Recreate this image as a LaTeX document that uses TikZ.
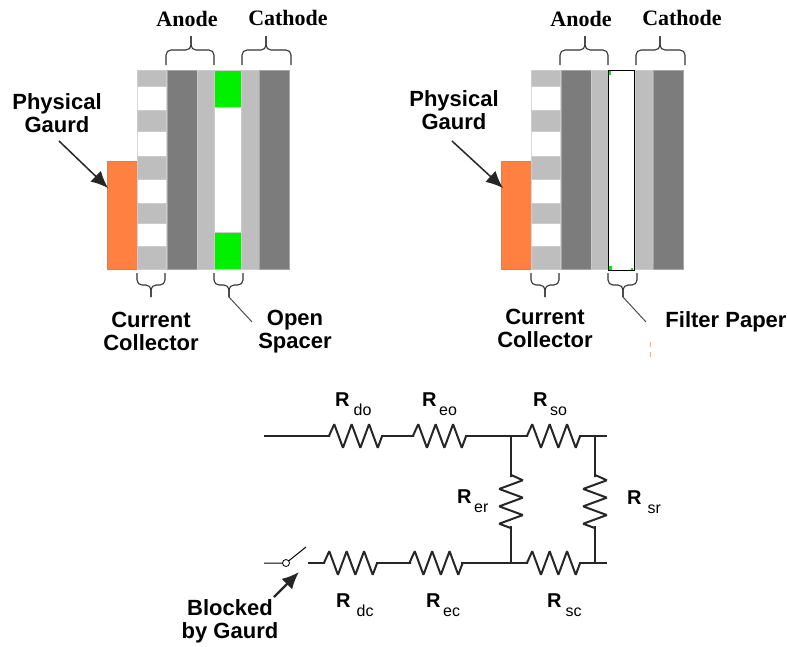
\documentclass[tikz,border=0pt]{standalone}
\usepackage{fontspec}
\setmainfont{Liberation Sans}
\newfontfamily\serifbold{Liberation Serif}[BoldFont={Liberation Serif Bold}]
\usepackage{circuitikz}
\usetikzlibrary{arrows.meta}
\definecolor{darklayer}{RGB}{124,124,124}
\definecolor{lightlayer}{RGB}{190,190,190}
\definecolor{spacergreen}{RGB}{0,240,0}
\definecolor{gaurdorange}{RGB}{255,128,64}
\newcommand{\Rlab}[2]{\textbf{R}\hspace{#1}\raisebox{-9pt}{\fontsize{16}{16}\selectfont #2}}
\ctikzset{bipoles/length=64pt, bipoles/resistor/height=0.37, bipoles/thickness=1}

\begin{document}
\begin{tikzpicture}[x=1pt, y=-1pt,
            dark/.style={fill=darklayer, draw=gray!70, line width=0.6pt},
            light/.style={fill=lightlayer, draw=gray!40, line width=0.6pt},
            gaurd/.style={fill=gaurdorange, draw=gaurdorange!70!gray, line width=0.6pt},
            title/.style={font=\serifbold\fontsize{22}{24}\selectfont\bfseries, inner sep=0pt},
            caption/.style={font=\fontsize{22}{23}\selectfont\bfseries, align=center, inner sep=0pt},
            rname/.style={font=\fontsize{20}{22}\selectfont, anchor=base west, inner sep=0pt},
            bracket/.style={rounded corners=5pt, line width=1.1pt, draw=black!80},
            pointer/.style={-{Latex[length=17pt, width=15pt]}, line width=1.5pt, black!85},
            leadwire/.style={line width=2pt, draw=black!85}]

            \useasboundingbox (0,0) rectangle (787,646);

            % Both cell stacks
            \foreach \pan/\dx in {A/0, B/394} {
                \begin{scope}[xshift=\dx]
                    \node[gaurd, minimum width=30pt, minimum height=108pt, inner sep=0pt] (\pan-gaurd) at (122,215) {};
                    % Current collector
                    \draw[gray!30, line width=0.6pt] (137.5,70) rectangle (166,269);
                    \foreach \ya/\yb in {70/86, 110/131, 156/179, 203/223, 246/269}
                        \filldraw[light] (137.5,\ya) rectangle (166,\yb);
                    % Electrodes
                    \filldraw[dark] (167,70) rectangle (197,269);
                    \filldraw[light] (197,70) rectangle (214,269);
                    \filldraw[light] (241,70) rectangle (259,269);
                    \filldraw[dark] (259,70) rectangle (289,269);
                    % Brackets
                    \foreach \brk/\xa/\xb/\xm/\ye/\ys/\yt in {anode/166/214/191/65/50/36, cathode/242/291/266/65/50/36,
                            coll/137/165/151/273/285/297, sep/214/243/229/273/285/297} {
                        \coordinate (\pan-\brk-l) at (\xa,\ye);
                        \coordinate (\pan-\brk-r) at (\xb,\ye);
                        \coordinate (\pan-\brk-m) at (\xm,\ys);
                        \coordinate (\pan-\brk-t) at (\xm,\yt);
                        \draw[bracket] (\pan-\brk-l) |- (\pan-\brk-m) -- (\pan-\brk-t);
                        \draw[bracket] (\pan-\brk-r) |- (\pan-\brk-m) -- (\pan-\brk-t);
                    }
                    \coordinate (\pan-sep-end) at (252,322);
                    \draw[line width=1pt, black!70] (\pan-sep-t) -- (\pan-sep-end);
                    \node[title] (\pan-anode) at (187,19) {Anode};
                    \node[title] (\pan-cathode) at (288,18) {Cathode};
                \end{scope}
            }

            % Open spacer
            \filldraw[fill=spacergreen, draw=gray!40, line width=0.6pt] (214,70) rectangle (241,107);
            \filldraw[fill=spacergreen, draw=gray!40, line width=0.6pt] (214,232) rectangle (241,269);

            % Filter paper
            \draw[line width=1pt, fill=white] (608.5,70) rectangle (634.5,270);
            \fill[spacergreen] (609,71) rectangle (611,75);
            \fill[spacergreen] (609,266) rectangle (612,269.5);
            \fill[spacergreen] (631,268) rectangle (633,269.5);
            \fill[gaurdorange!70] (649.5,342) rectangle (651,347);
            \fill[gaurdorange!70] (649.5,352) rectangle (651,357);

            % Labels of the stacks
            \node[caption] (gaurdA) at (57,113) {Physical\\Gaurd};
            \node[caption] (gaurdB) at (454,110) {Physical\\Gaurd};
            \node[caption] (collA) at (151,331) {Current\\Collector};
            \node[caption] (collB) at (545,328) {Current\\Collector};
            \node[caption] (spacer) at (295,332) {Open\\Spacer};
            \node[caption] (paper) at (726,322) {Filter Paper};
            \coordinate (gaurdA-tip) at (108,188);
            \coordinate (gaurdB-tip) at (503,188);
            \coordinate (gaurdA-tail) at (59,141);
            \coordinate (gaurdB-tail) at (452,141);
            \draw[pointer] (gaurdA-tail) -- (gaurdA-tip);
            \draw[pointer] (gaurdB-tail) -- (gaurdB-tip);

            % Circuit
            \coordinate (in1) at (264,436);
            \coordinate (t1) at (330,436);
            \coordinate (t2) at (381,436);
            \coordinate (t3) at (414,436);
            \coordinate (t4) at (465,436);
            \coordinate (t5) at (511,436);
            \coordinate (t6) at (528,436);
            \coordinate (t7) at (579,436);
            \coordinate (t8) at (595,436);
            \coordinate (t9) at (607,436);
            \coordinate (in2) at (264,563);
            \coordinate (sw) at (286,563);
            \coordinate (swend) at (306,547);
            \coordinate (b0) at (308,563);
            \coordinate (b1) at (325,563);
            \coordinate (b2) at (376,563);
            \coordinate (b3) at (411,563);
            \coordinate (b4) at (461,563);
            \coordinate (b5) at (511,563);
            \coordinate (b6) at (528,563);
            \coordinate (b7) at (579,563);
            \coordinate (b8) at (595,563);
            \coordinate (b9) at (607,563);
            \coordinate (m1) at (511,477);
            \coordinate (m2) at (511,526);
            \coordinate (m3) at (595,477);
            \coordinate (m4) at (595,526);
            \draw[leadwire] (in1) -- (t1) to[R] (t2) -- (t3) to[R] (t4) -- (t5) -- (t6) to[R] (t7) -- (t9);
            \draw[leadwire] (b0) -- (b1) to[R] (b2) -- (b3) to[R] (b4) -- (b5) -- (b6) to[R] (b7) -- (b9);
            \draw[leadwire] (t5) -- (m1) to[R] (m2) -- (b5);
            \draw[leadwire] (t8) -- (m3) to[R] (m4) -- (b8);
            \draw[line width=1pt] (in2) -- (sw) -- (swend);
            \node[draw, circle, fill=white, minimum size=7pt, inner sep=0pt, line width=0.8pt] (swhinge) at (sw) {};

            \node[rname] (rdo) at (335,406) {\Rlab{4pt}{do}};
            \node[rname] (reo) at (422,406) {\Rlab{2.5pt}{eo}};
            \node[rname] (rso) at (533,406) {\Rlab{2.5pt}{so}};
            \node[rname] (rer) at (457,503) {\Rlab{2.5pt}{er}};
            \node[rname] (rsr) at (627,504) {\Rlab{6pt}{sr}};
            \node[rname] (rdc) at (336,607) {\Rlab{6pt}{dc}};
            \node[rname] (rec) at (426,607) {\Rlab{2.5pt}{ec}};
            \node[rname] (rsc) at (547,607) {\Rlab{4pt}{sc}};

            \node[caption] (blocked) at (230,621) {Blocked\\by Gaurd};
            \coordinate (blocked-tail) at (274,597);
            \coordinate (blocked-tip) at (299,572);
            \draw[pointer, line width=2.4pt] (blocked-tail) -- (blocked-tip);
        \end{tikzpicture}
\end{document}
